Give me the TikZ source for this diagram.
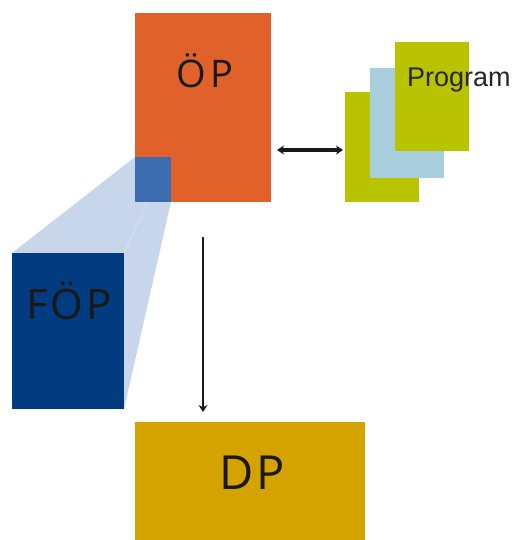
\documentclass[tikz,border=0pt]{standalone}
\usepackage{fontspec}
\setmainfont{Open Sans}
\usetikzlibrary{arrows.meta}
\definecolor{opor}{HTML}{E0622A}
\definecolor{sqblue}{HTML}{3C6BB0}
\definecolor{fopblue}{HTML}{033B80}
\definecolor{dpgold}{HTML}{D4A300}
\definecolor{pgreen}{HTML}{BAC300}
\definecolor{plblue}{HTML}{A9CEDD}
\definecolor{trap}{HTML}{C7D6EB}
\tikzset{
  x=1pt,y=-1pt,
  box/.style={draw=none,anchor=north west,inner sep=0pt,outer sep=0pt},
  bigtxt/.style={anchor=base,inner sep=0pt,text=black!90},
  conn/.style={draw=black!90},
}
\begin{document}
\begin{tikzpicture}
\useasboundingbox (0,0) rectangle (521,540);
% projection
\fill[trap] (12,253) -- (135,157) -- (171,157) -- (171,202) -- (124,409) -- (12,409) -- cycle;
\draw[white!40!trap,line width=0.5pt] (168,158) -- (124,253);
% boxes
\node[box,fill=opor,minimum width=136pt,minimum height=189pt] (op) at (135,13) {};
\node[box,fill=sqblue,minimum width=36pt,minimum height=45pt] (sq) at (135,157) {};
\node[box,fill=fopblue,minimum width=112pt,minimum height=156pt] (fop) at (12,253) {};
\node[box,fill=dpgold,minimum width=230pt,minimum height=120pt] (dp) at (135,422) {};
\node[box,fill=pgreen,minimum width=74pt,minimum height=110pt] (pg1) at (345,92) {};
\node[box,fill=plblue,minimum width=74pt,minimum height=110pt] (pg2) at (370,68) {};
\node[box,fill=pgreen,minimum width=74pt,minimum height=109pt] (pg3) at (395,42) {};
% texts
\node[bigtxt,font=\fontsize{38}{40}\selectfont] (optxt) at (205,88) {Ö\kern4pt P};
\node[bigtxt,font=\fontsize{42}{44}\selectfont] (foptxt) at (69,319) {F\kern3ptÖ\kern3ptP};
\node[bigtxt,font=\fontsize{47}{50}\selectfont] (dptxt) at (252,489) {D\kern3ptP};
\node[anchor=base west,inner sep=0pt,text=black!85,font=\fontspec{Liberation Sans}\fontsize{27}{30}\selectfont] (prog) at (407,87) {Program};
% connectors
\coordinate (a1) at (203,237);
\coordinate (a2) at (203,412);
\draw[conn,line width=2.8pt,-{Stealth[length=7pt,width=9pt]}] (a1) -- (a2);
\coordinate (b1) at (277,150);
\coordinate (b2) at (343,150);
\draw[conn,line width=3.2pt,{Stealth[length=7pt,width=9pt]}-{Stealth[length=7pt,width=9pt]}] (b1) -- (b2);
\end{tikzpicture}
\end{document}
